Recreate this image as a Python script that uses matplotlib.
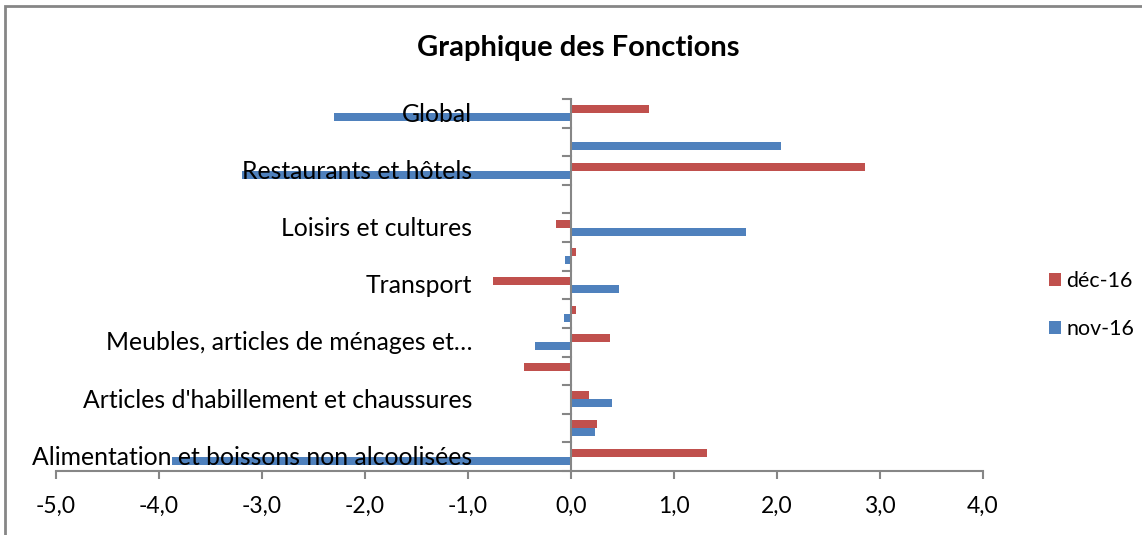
import matplotlib
matplotlib.use("Agg")
import matplotlib.pyplot as plt
import numpy as np
from matplotlib.patches import Rectangle
from matplotlib.ticker import FuncFormatter

# Categories from bottom to top (only every other label is shown, as in Excel)
categories = [
    "Alimentation et boissons non alcoolisées",
    "Boissons alcoolisées et tabac",
    "Articles d'habillement et chaussures",
    "Logement, eau, gaz, électricité",
    "Meubles, articles de ménages et…",
    "Santé",
    "Transport",
    "Communication",
    "Loisirs et cultures",
    "Enseignement",
    "Restaurants et hôtels",
    "Biens et services divers",
    "Global",
]
dec16 = [1.32, 0.25, 0.17, -0.46, 0.38, 0.05, -0.76, 0.05, -0.15, 0.0, 2.85, 0.01, 0.76]
nov16 = [-3.87, 0.23, 0.40, 0.0, -0.35, -0.07, 0.47, -0.06, 1.70, 0.0, -3.19, 2.04, -2.30]
xticks = [-5, -4, -3, -2, -1, 0, 1, 2, 3, 4]

RED = "#C0504D"
BLUE = "#4F81BD"
GRAY = "#868686"
FONT = "Lato"

W, H = 1142, 535
fig = plt.figure(figsize=(W / 100, H / 100), dpi=100)
ax = fig.add_axes([56 / W, 1 - 471 / H, (983 - 56) / W, (471 - 99) / H])

y = np.arange(len(categories))
h = 0.28
ax.barh(y + h / 2, dec16, height=h, color=RED, label="déc-16", zorder=1)
ax.barh(y - h / 2, nov16, height=h, color=BLUE, label="nov-16", zorder=1)

ax.set_xlim(-5, 4)
ax.set_ylim(-0.5, len(categories) - 0.5)

for s in ["top", "right", "left"]:
    ax.spines[s].set_visible(False)
ax.spines["bottom"].set_color(GRAY)
ax.spines["bottom"].set_linewidth(1.5)
ax.axvline(0, color=GRAY, lw=1.5, zorder=2)

ax.set_xticks(xticks)
ax.xaxis.set_major_formatter(FuncFormatter(lambda v, p: f"{v:.1f}".replace(".", ",")))
ax.tick_params(axis="x", direction="out", length=6, width=1.5, color=GRAY,
               labelsize=16.5, pad=12)
for t in ax.get_xticklabels():
    t.set_fontfamily(FONT)

# y ticks: boundaries as short marks left of x=0, labels as text
ax.set_yticks([])
for b in np.arange(-0.5, len(categories), 1.0):
    ax.plot([-0.08, 0], [b, b], color=GRAY, lw=1.5, zorder=2, clip_on=False)
for i, name in enumerate(categories):
    if i % 2 == 0:
        ax.annotate(name, xy=(0, i), xycoords="data", xytext=(-71, -0.5),
                    textcoords="offset points", ha="right", va="center",
                    fontsize=17.8, fontfamily=FONT, color="black", zorder=3)

fig.text(578 / W, 1 - 48 / H, "Graphique des Fonctions", ha="center", va="center",
         fontsize=21, fontweight="bold", fontfamily=FONT)

handles, labels = ax.get_legend_handles_labels()
leg = fig.legend(handles, labels, loc="center left", bbox_to_anchor=(1030 / W, 1 - 305 / H),
                 frameon=False, handlelength=0.55, handleheight=0.55, handletextpad=0.25,
                 labelspacing=1.3, prop={"family": FONT, "size": 15.4})

fig.add_artist(Rectangle((5 / W, -0.1), 1.2, 1 - 6 / H + 0.1, transform=fig.transFigure,
                         fill=False, edgecolor=GRAY, lw=2))

fig.savefig("out.png", dpi=100, facecolor="white")
